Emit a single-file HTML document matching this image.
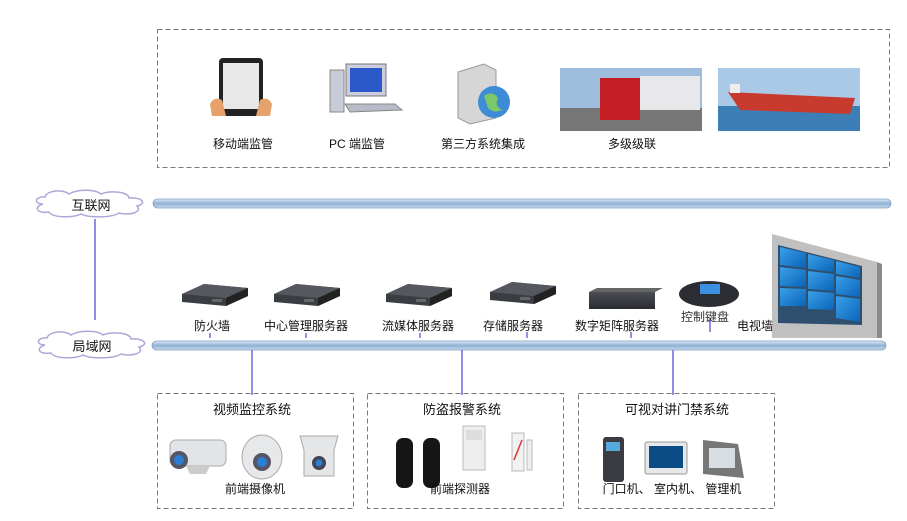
<!DOCTYPE html>
<html><head><meta charset="utf-8"><style>
body{margin:0;width:907px;height:521px;background:#fff;position:relative;overflow:hidden;font-family:"Liberation Sans","Noto Sans CJK SC",sans-serif;}
.t{position:absolute;font-size:12px;color:#111;white-space:nowrap;transform:translateX(-50%);}
svg{position:absolute;left:0;top:0}
</style></head><body>
<svg width="907" height="521" viewBox="0 0 907 521">
<defs>
<linearGradient id="pipe" x1="0" y1="0" x2="0" y2="1"><stop offset="0" stop-color="#dfe9f5"/><stop offset="0.5" stop-color="#8fb1d6"/><stop offset="1" stop-color="#c9d9ea"/></linearGradient>
<linearGradient id="box" x1="0" y1="0" x2="0" y2="1"><stop offset="0" stop-color="#4a4d52"/><stop offset="1" stop-color="#2a2c30"/></linearGradient>
<linearGradient id="scr" x1="0" y1="0" x2="1" y2="1"><stop offset="0" stop-color="#3aa0e8"/><stop offset="1" stop-color="#0a63b8"/></linearGradient>
<g id="srv"><polygon points="0,10 22,0 66,4 66,12 44,22 0,18" fill="#3a3d42"/><polygon points="0,10 22,0 66,4 44,14" fill="#55595f"/><polygon points="44,14 66,4 66,12 44,22" fill="#222"/><rect x="30" y="15" width="10" height="3" fill="#666"/></g>
<g id="cloud"><path d="M10,12 C0,12 2,4 12,5 C14,-2 30,-3 36,2 C44,-3 62,-3 68,2 C78,-2 96,0 96,6 C110,5 114,12 104,14 C110,20 96,24 86,21 C78,26 56,26 48,22 C40,26 20,26 16,20 C4,22 0,15 10,12Z" fill="#fff" stroke="#a9a9d8" stroke-width="1.5"/></g>
</defs>
<rect x="157.5" y="29.5" width="732" height="138" fill="none" stroke="#777" stroke-dasharray="5,3"/>
<rect x="153" y="199" width="738" height="9" rx="4.5" fill="url(#pipe)" stroke="#7fa1c8" stroke-width="0.8"/>
<rect x="152" y="341" width="734" height="9" rx="4.5" fill="url(#pipe)" stroke="#7fa1c8" stroke-width="0.8"/>
<g stroke="#6a6ae0" stroke-width="1.5">
<line x1="95" y1="219" x2="95" y2="320"/>
<line x1="252" y1="350" x2="252" y2="395"/>
<line x1="462" y1="350" x2="462" y2="395"/>
<line x1="673" y1="350" x2="673" y2="395"/>
<line x1="210" y1="333" x2="210" y2="338"/><line x1="306" y1="333" x2="306" y2="338"/><line x1="420" y1="333" x2="420" y2="338"/>
<line x1="527" y1="332" x2="527" y2="338"/><line x1="631" y1="332" x2="631" y2="338"/><line x1="710" y1="318" x2="710" y2="332"/><line x1="785" y1="331" x2="785" y2="337"/>
</g>
<use href="#cloud" x="33" y="192"/>
<use href="#cloud" x="35" y="333"/>
<g fill="none" stroke="#777" stroke-dasharray="5,3">
<rect x="157.5" y="393.5" width="196" height="115"/>
<rect x="367.5" y="393.5" width="196" height="115"/>
<rect x="578.5" y="393.5" width="196" height="115"/>
</g>
<rect x="219" y="58" width="44" height="58" rx="4" fill="#222"/><rect x="223" y="63" width="36" height="46" fill="#e8e8e8"/>
<path d="M210,104 q4,-8 12,-4 l4,16 h-14z M272,104 q-4,-8 -12,-4 l-4,16 h14z" fill="#e6a26a"/>
<rect x="330" y="70" width="14" height="42" fill="#c8cbd8" stroke="#888"/>
<rect x="346" y="64" width="40" height="32" fill="#ccd" stroke="#777"/><rect x="350" y="68" width="32" height="24" fill="#2a58c8"/>
<polygon points="345,104 395,104 402,110 350,112" fill="#b9bcc8" stroke="#888"/>
<polygon points="458,72 484,64 496,70 496,118 470,124 458,118" fill="#d6d6d6" stroke="#999"/>
<circle cx="494" cy="102" r="16" fill="#3e8bd6"/><path d="M484,96 q8,-6 14,2 q-4,8 4,12 q-8,4 -14,-2z" fill="#7bc86a"/>
<rect x="560" y="68" width="142" height="63" fill="#9fbddc"/><rect x="560" y="108" width="142" height="23" fill="#777"/>
<rect x="600" y="78" width="40" height="42" fill="#c41e24"/><rect x="640" y="76" width="60" height="34" fill="#e8e8ea"/>
<rect x="718" y="68" width="142" height="63" fill="#a9c9e6"/><rect x="718" y="106" width="142" height="25" fill="#3b7fb6"/>
<path d="M728,92 L855,98 L850,114 L740,110Z" fill="#c83a2e"/><rect x="730" y="84" width="10" height="9" fill="#eee"/>
<use href="#srv" x="182" y="284"/><use href="#srv" x="274" y="284"/><use href="#srv" x="386" y="284"/><use href="#srv" x="490" y="282"/>
<rect x="589" y="292" width="66" height="17" fill="url(#box)"/><polygon points="589,292 597,288 663,288 655,292" fill="#666"/>
<ellipse cx="709" cy="294" rx="30" ry="13" fill="#2b2d33"/><rect x="700" y="284" width="20" height="10" fill="#3a8fe0"/>
<polygon points="772,234 877,262 877,338 772,338" fill="#c0c0c0"/><polygon points="877,262 882,264 882,338 877,338" fill="#8a8a8a"/>
<polygon points="778,245 862,266 862,325 778,323" fill="#2f4f6f"/>
<g fill="url(#scr)">
<polygon points="780,247 806,253 806,268 780,265"/><polygon points="808,254 834,260 834,272 808,269"/><polygon points="836,261 860,267 860,278 836,274"/>
<polygon points="780,267 806,270 806,287 780,286"/><polygon points="808,271 834,274 834,291 808,289"/><polygon points="836,276 860,280 860,297 836,294"/>
<polygon points="780,288 806,289 806,306 780,306"/><polygon points="808,291 834,293 834,310 808,309"/><polygon points="836,296 860,299 860,322 836,318"/>
</g>
<g transform="translate(166,440)"><rect x="4" y="0" width="56" height="26" rx="6" fill="#e3e4e6" stroke="#aaa"/><polygon points="20,26 44,26 40,34 24,34" fill="#ccc"/><circle cx="13" cy="20" r="9" fill="#556"/><circle cx="13" cy="20" r="5" fill="#2a7fd4"/></g>
<ellipse cx="262" cy="457" rx="20" ry="22" fill="#e7e8ea" stroke="#aaa"/><circle cx="262" cy="462" r="9" fill="#556"/><circle cx="262" cy="462" r="5" fill="#2a7fd4"/>
<path d="M300,436 h38 l-4,14 v26 h-30 v-26z" fill="#e5e6e8" stroke="#aaa"/><circle cx="319" cy="463" r="7" fill="#445"/><circle cx="319" cy="463" r="3.5" fill="#2a7fd4"/>
<rect x="396" y="438" width="17" height="50" rx="7" fill="#161616"/><rect x="423" y="438" width="17" height="50" rx="7" fill="#161616"/>
<rect x="463" y="426" width="22" height="44" fill="#eee" stroke="#bbb"/><rect x="466" y="430" width="16" height="10" fill="#ddd"/>
<rect x="512" y="433" width="12" height="38" fill="#f2f2f2" stroke="#bbb"/><line x1="514" y1="460" x2="522" y2="440" stroke="#d33" stroke-width="1.5"/><rect x="527" y="440" width="5" height="30" fill="#eee" stroke="#bbb"/>
<rect x="603" y="437" width="21" height="45" rx="3" fill="#3a3c42"/><rect x="606" y="442" width="14" height="9" fill="#5ad"/>
<rect x="645" y="442" width="42" height="32" rx="2" fill="#e6e8ea" stroke="#999"/><rect x="649" y="446" width="34" height="22" fill="#0c4c86"/>
<polygon points="703,440 738,444 744,478 703,474" fill="#777"/><rect x="709" y="448" width="26" height="20" fill="#d7dde2"/>
</svg>
<div class="t" style="left:91px;top:195px;font-size:13px">互联网</div>
<div class="t" style="left:92px;top:336px;font-size:13px">局域网</div>
<div class="t" style="left:243px;top:135px">移动端监管</div>
<div class="t" style="left:357px;top:135px">PC 端监管</div>
<div class="t" style="left:483px;top:135px">第三方系统集成</div>
<div class="t" style="left:632px;top:135px">多级级联</div>
<div class="t" style="left:212px;top:317px">防火墙</div>
<div class="t" style="left:306px;top:317px">中心管理服务器</div>
<div class="t" style="left:418px;top:317px">流媒体服务器</div>
<div class="t" style="left:513px;top:317px">存储服务器</div>
<div class="t" style="left:617px;top:317px">数字矩阵服务器</div>
<div class="t" style="left:705px;top:308px;color:#333">控制键盘</div>
<div class="t" style="left:755px;top:317px">电视墙</div>
<div class="t" style="left:252px;top:399px;font-size:13px">视频监控系统</div>
<div class="t" style="left:462px;top:399px;font-size:13px">防盗报警系统</div>
<div class="t" style="left:677px;top:399px;font-size:13px">可视对讲门禁系统</div>
<div class="t" style="left:255px;top:480px">前端摄像机</div>
<div class="t" style="left:460px;top:480px">前端探测器</div>
<div class="t" style="left:672px;top:480px">门口机、 室内机、 管理机</div>
</body></html>
